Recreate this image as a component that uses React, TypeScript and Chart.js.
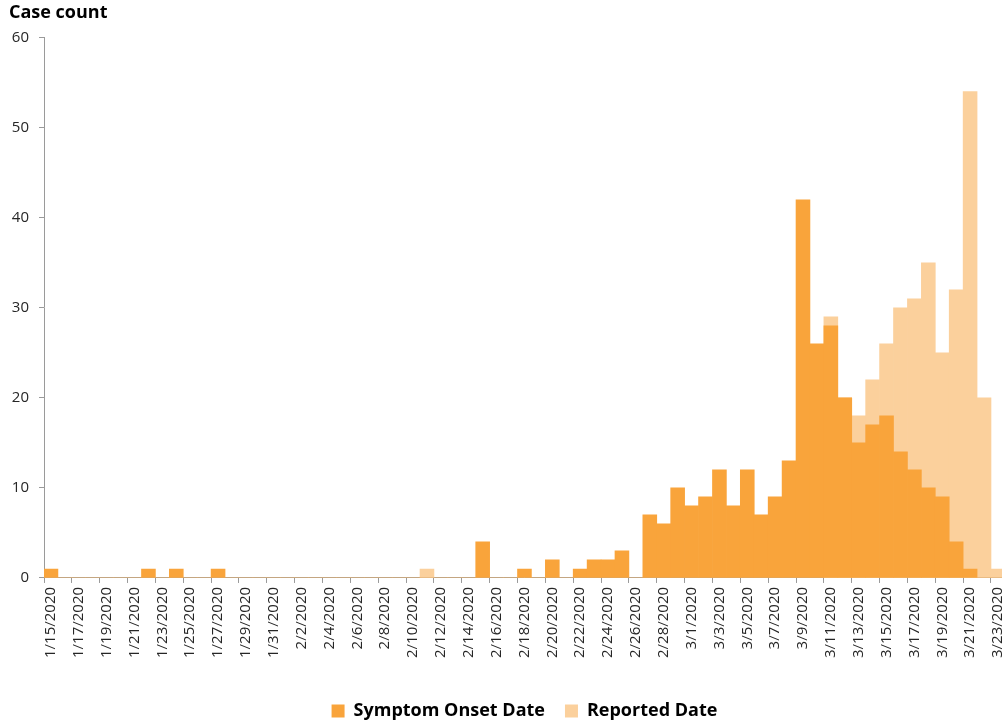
import React, { useEffect, useRef } from "react";
import { Chart, registerables } from "chart.js";

Chart.register(...registerables);

const dateLabels: string[] = [
  "1/15/2020", "1/16/2020", "1/17/2020", "1/18/2020", "1/19/2020", "1/20/2020", "1/21/2020", "1/22/2020",
  "1/23/2020", "1/24/2020", "1/25/2020", "1/26/2020", "1/27/2020", "1/28/2020", "1/29/2020", "1/30/2020",
  "1/31/2020",
  "2/1/2020", "2/2/2020", "2/3/2020", "2/4/2020", "2/5/2020", "2/6/2020", "2/7/2020", "2/8/2020",
  "2/9/2020", "2/10/2020", "2/11/2020", "2/12/2020", "2/13/2020", "2/14/2020", "2/15/2020", "2/16/2020",
  "2/17/2020", "2/18/2020", "2/19/2020", "2/20/2020", "2/21/2020", "2/22/2020", "2/23/2020", "2/24/2020",
  "2/25/2020", "2/26/2020", "2/27/2020", "2/28/2020", "2/29/2020",
  "3/1/2020", "3/2/2020", "3/3/2020", "3/4/2020", "3/5/2020", "3/6/2020", "3/7/2020", "3/8/2020",
  "3/9/2020", "3/10/2020", "3/11/2020", "3/12/2020", "3/13/2020", "3/14/2020", "3/15/2020", "3/16/2020",
  "3/17/2020", "3/18/2020", "3/19/2020", "3/20/2020", "3/21/2020", "3/22/2020", "3/23/2020",
];

// January 15 - 31
const onsetJan: number[] = [1, 0, 0, 0, 0, 0, 0, 1, 0, 1, 0, 0, 1, 0, 0, 0, 0];
// February 1 - 29
const onsetFeb: number[] = [
  0, 0, 0, 0, 0, 0, 0, 0, 0, 0, 0, 0, 0, 0, 4, 0, 0, 1, 0, 2, 0, 1, 2, 2, 3, 0, 7, 6, 10,
];
// March 1 - 23
const onsetMar: number[] = [
  8, 9, 12, 8, 12, 7, 9, 13, 42, 26, 28, 20, 15, 17, 18, 14, 12, 10, 9, 4, 1, 0, 0,
];

const reportedJan: number[] = [0, 0, 0, 0, 0, 0, 0, 0, 0, 0, 0, 0, 0, 0, 0, 0, 0];
const reportedFeb: number[] = [
  0, 0, 0, 0, 0, 0, 0, 0, 0, 0, 1, 0, 0, 0, 0, 0, 0, 0, 0, 0, 0, 0, 0, 0, 0, 0, 0, 0, 0,
];
const reportedMar: number[] = [
  0, 0, 0, 0, 0, 0, 0, 0, 0, 0, 29, 20, 18, 22, 26, 30, 31, 35, 25, 32, 54, 20, 1,
];

const yTicks: number[] = [0, 10, 20, 30, 40, 50, 60];

const onsetValues = [...onsetJan, ...onsetFeb, ...onsetMar];
const reportedValues = [...reportedJan, ...reportedFeb, ...reportedMar];

const ONSET_COLOR = "#F9A43B";
const REPORTED_COLOR = "#FBD09C";
const AXIS_COLOR = "#9A9A9A";
const TEXT_COLOR = "#262626";
const FONT = "'Open Sans', Lato, sans-serif";

export default function App() {
  const canvasRef = useRef<HTMLCanvasElement | null>(null);

  useEffect(() => {
    if (!canvasRef.current) return;
    const chart = new Chart(canvasRef.current, {
      type: "bar",
      data: {
        labels: dateLabels,
        datasets: [
          {
            label: "Symptom Onset Date",
            data: onsetValues,
            backgroundColor: ONSET_COLOR,
            borderWidth: 0,
            grouped: false,
            barPercentage: 1,
            categoryPercentage: 1,
          },
          {
            label: "Reported Date",
            data: reportedValues,
            backgroundColor: REPORTED_COLOR,
            borderWidth: 0,
            grouped: false,
            barPercentage: 1,
            categoryPercentage: 1,
          },
        ],
      },
      options: {
        responsive: false,
        animation: false,
        layout: { padding: { left: 9, right: 6, top: 0, bottom: -5 } },
        plugins: {
          title: {
            display: true,
            text: "Case count",
            align: "start",
            color: "#000",
            font: { family: FONT, size: 18, weight: "bold" },
            padding: { top: 2, bottom: 14 },
          },
          legend: {
            display: true,
            position: "bottom",
            fullSize: false,
            labels: {
              boxWidth: 13,
              boxHeight: 13,
              padding: 20,
              color: "#000",
              font: { family: FONT, size: 18, weight: "bold" },
            },
          },
          tooltip: { enabled: false },
        },
        scales: {
          x: {
            type: "category",
            offset: true,
            border: { display: true, color: AXIS_COLOR, width: 1 },
            grid: {
              display: true,
              offset: true,
              drawOnChartArea: false,
              drawTicks: true,
              tickLength: 5,
              color: (ctx: any) => (ctx.index % 2 === 0 ? AXIS_COLOR : "rgba(0,0,0,0)"),
            },
            afterFit: (scale: any) => {
              scale.height = scale.height + 20;
            },
            ticks: {
              autoSkip: false,
              maxRotation: 90,
              minRotation: 90,
              padding: 4,
              color: TEXT_COLOR,
              font: { family: FONT, size: 15 },
              callback: (_v: any, i: number) => (i % 2 === 0 ? dateLabels[i] : ""),
            },
          },
          y: {
            min: 0,
            max: 60,
            border: { display: true, color: AXIS_COLOR, width: 1 },
            grid: {
              display: true,
              drawOnChartArea: false,
              drawTicks: true,
              tickLength: 5,
              color: AXIS_COLOR,
            },
            afterBuildTicks: (scale: any) => {
              scale.ticks = yTicks.map((v) => ({ value: v }));
            },
            afterFit: (scale: any) => {
              scale.width = 35;
            },
            ticks: {
              padding: 10,
              color: TEXT_COLOR,
              font: { family: FONT, size: 15 },
            },
          },
        },
      },
    });
    return () => chart.destroy();
  }, []);

  return (
    <div
      style={{
        position: "fixed",
        left: 0,
        top: 0,
        width: 1002,
        height: 725,
        overflow: "hidden",
        background: "#fff",
      }}
    >
      <canvas ref={canvasRef} width={1020} height={725} style={{ display: "block" }} />
    </div>
  );
}
